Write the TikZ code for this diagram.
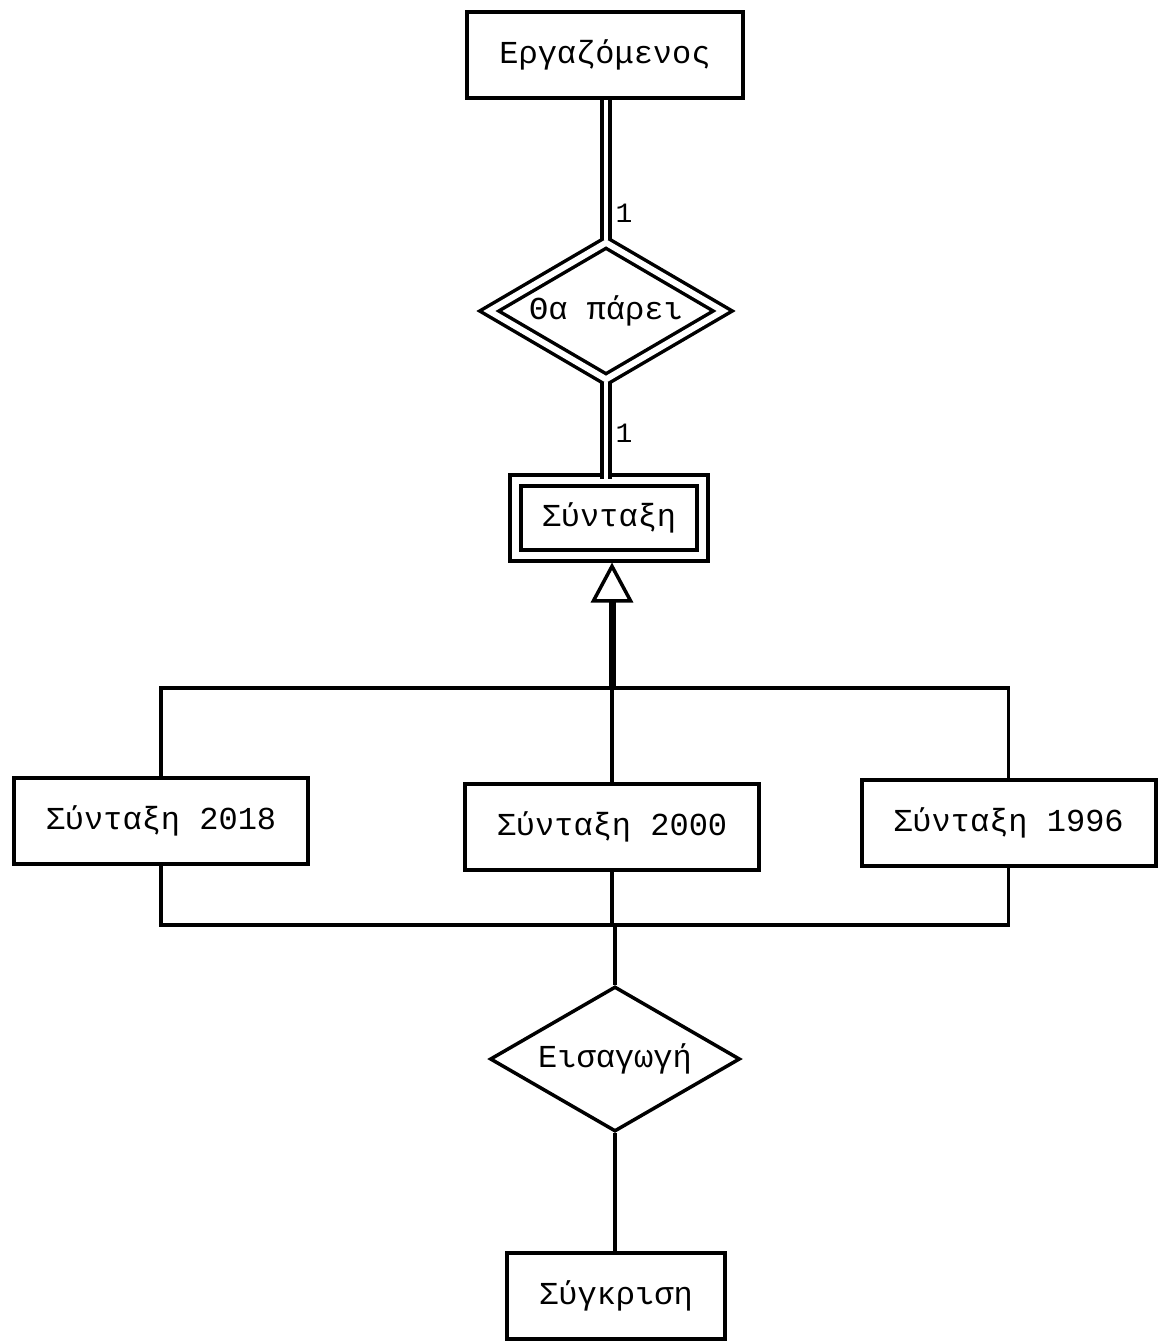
\documentclass[tikz,border=0pt]{standalone}
\usepackage{fontspec}
\setmainfont{Liberation Mono}
\usetikzlibrary{shapes.geometric,arrows.meta}
\tikzset{
  lbl/.style={font=\fontsize{32}{34}\selectfont},
  ent/.style={draw, line width=4pt, minimum width=#1, minimum height=86pt, inner sep=0pt, lbl},
  ent/.default=292pt,
  wkent/.style={draw, line width=4pt, double, double distance=7.5pt, minimum width=187pt, minimum height=75pt, inner sep=0pt, lbl},
  rel/.style={draw, diamond, aspect=1.7, line width=3.5pt, minimum width=250pt, minimum height=145pt, inner sep=0pt, lbl},
  idrel/.style={draw, diamond, aspect=1.7, line width=3.5pt, double, double distance=6pt, minimum width=235pt, minimum height=138pt, inner sep=0pt, lbl},
  dbl/.style={line width=4pt, double, double distance=4pt},
  conn/.style={line width=3.5pt},
  card/.style={font=\fontsize{28}{30}\selectfont, inner sep=0pt},
}
\begin{document}
\begin{tikzpicture}[x=1pt,y=-1pt]
\useasboundingbox (0,0) rectangle (1165,1342);
% entities
\node[ent=276pt] (emp) at (605,55) {Εργαζόμενος};
\node[idrel] (take) at (606,311) {Θα πάρει};
\node[wkent] (synt) at (609,518) {Σύνταξη};
\node[ent=294pt] (s18) at (161,821) {Σύνταξη 2018};
\node[ent=294pt] (s00) at (612,826.5) {Σύνταξη 2000};
\node[ent=294pt] (s96) at (1008.5,822.5) {Σύνταξη 1996};
\node[rel] (ins) at (615,1059) {Εισαγωγή};
\node[ent=218pt] (cmp) at (616,1296) {Σύγκριση};
% coordinates
\coordinate (jtop) at (612,688);
\coordinate (tl) at (161,688);
\coordinate (tr) at (1008.5,688);
\coordinate (jbot) at (612,925);
\coordinate (bl) at (161,925);
\coordinate (br) at (1008.5,925);
% double connectors
\draw[dbl] (emp.south -| take.north) -- (take.north);
\draw[dbl] (take.south) -- (take.south |- synt.north);
\node[card] (c1) at (624,213) {1};
\node[card] (c2) at (624,433) {1};
% ISA arrow
\draw[line width=7pt, shorten >=5pt, -{Triangle[open, length=40pt, width=42pt, line width=3.5pt]}] (jtop) -- (jtop |- synt.south);
% tree top
\draw[conn] (s18.north) -- (tl) -- (tr) -- (s96.north);
\draw[conn] (jtop) -- (s00.north);
% tree bottom
\draw[conn] (s18.south) -- (bl) -- (br) -- (s96.south);
\draw[conn] (s00.south) -- (jbot);
\draw[conn] (jbot -| ins.north) -- (ins.north);
\draw[conn] (ins.south) -- (ins.south |- cmp.north);
\end{tikzpicture}
\end{document}
